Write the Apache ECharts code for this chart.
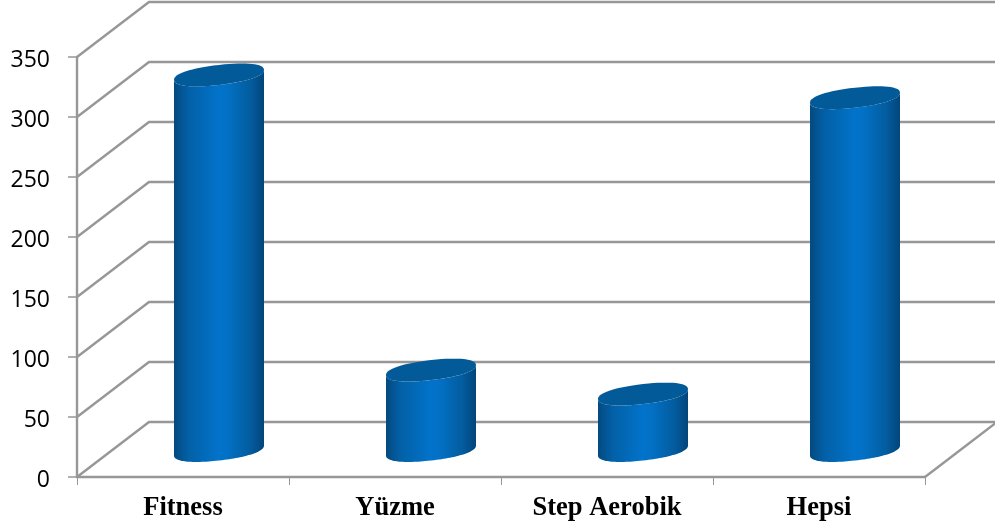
<!DOCTYPE html>
<html>
<head>
<meta charset="utf-8">
<style>html,body{margin:0;padding:0;background:#fff}#c{width:995px;height:526px}</style>
<script src="https://cdn.jsdelivr.net/npm/echarts@6/dist/echarts.min.js"></script>
</head>
<body>
<div id="c"></div>
<script>
const categories = ['Fitness', 'Yüzme', 'Step Aerobik', 'Hepsi'];
const values = [313, 67, 47, 294];
const yTicks = [0, 50, 100, 150, 200, 250, 300, 350];

const DEPTH_X = 72, DEPTH_Y = 55;
const GREY = '#979797';
const HALF_W = 45, SHEAR = 5, HALF_H = 10, ROUND = 0.9;

function sp(v) { return Math.sign(v) * Math.pow(Math.abs(v), ROUND); }

function arc(cx, cy, from, to) {
  const pts = [];
  const n = 64;
  for (let i = 0; i <= n; i++) {
    const t = from + (to - from) * i / n;
    const c = sp(Math.cos(t)), s = sp(Math.sin(t));
    pts.push([cx + HALF_W * c, cy - SHEAR * c + HALF_H * s]);
  }
  return pts;
}

function renderWall(params, api) {
  const cs = params.coordSys;
  const y = api.coord([0, api.value(1)])[1];
  const left = cs.x, right = cs.x + cs.width;
  const style = { stroke: GREY, lineWidth: 2.4, fill: null };
  const children = [{
    type: 'polyline',
    shape: { points: [[left, y], [left + DEPTH_X, y - DEPTH_Y], [right + DEPTH_X, y - DEPTH_Y]] },
    style: style
  }];
  if (api.value(1) === 0) {
    children.push({
      type: 'line',
      shape: { x1: right, y1: y, x2: right + DEPTH_X, y2: y - DEPTH_Y },
      style: style
    });
  }
  return { type: 'group', children: children };
}

function renderCylinder(params, api) {
  const top = api.coord([api.value(0), api.value(1)]);
  const base = api.coord([api.value(0), 0]);
  const cx = top[0] + DEPTH_X / 2;
  const topY = top[1] - DEPTH_Y / 2 + 1;
  const baseY = base[1] - DEPTH_Y / 2 + 1;
  const body = arc(cx, baseY, 0, Math.PI).concat(arc(cx, topY, Math.PI, 0));
  return {
    type: 'group',
    children: [{
      type: 'polygon',
      shape: { points: body },
      style: {
        fill: {
          type: 'linear', x: 0, y: 0, x2: 1, y2: 0,
          colorStops: [
            { offset: 0, color: '#034a80' },
            { offset: 0.16, color: '#0360a6' },
            { offset: 0.5, color: '#0273cb' },
            { offset: 0.6, color: '#0270c4' },
            { offset: 0.85, color: '#035c9e' },
            { offset: 1, color: '#03457a' }
          ]
        }
      }
    }, {
      type: 'polygon',
      shape: { points: arc(cx, topY, 0, 2 * Math.PI) },
      style: { fill: '#035a98' }
    }]
  };
}

const chart = echarts.init(document.getElementById('c'), null, { renderer: 'canvas' });
chart.setOption({
  animation: false,
  backgroundColor: '#fff',
  grid: { left: 77, right: 70, top: 57, bottom: 49 },
  xAxis: {
    type: 'category',
    data: categories,
    axisLine: { lineStyle: { color: GREY, width: 2.4 } },
    axisTick: { show: true, length: 8, lineStyle: { color: GREY, width: 1 } },
    axisLabel: {
      margin: 18, interval: 0, color: '#000',
      fontFamily: 'Liberation Serif', fontWeight: 'bold', fontSize: 26.5
    }
  },
  yAxis: {
    type: 'value', min: 0, max: 350, interval: 50,
    axisLine: { show: true, lineStyle: { color: GREY, width: 2.4 } },
    axisTick: { show: true, length: 9, lineStyle: { color: GREY, width: 1.5 } },
    splitLine: { show: false },
    axisLabel: {
      margin: 27, color: '#000', verticalAlign: 'top', lineHeight: 6,
      fontFamily: 'Open Sans', fontSize: 23,
      formatter: function (v) { return yTicks.includes(v) ? String(v) : ''; }
    }
  },
  series: [{
    type: 'custom', silent: true, z: 1,
    renderItem: renderWall,
    encode: { x: 0, y: 1 },
    data: yTicks.map(v => [0, v])
  }, {
    type: 'custom', silent: true, z: 3,
    renderItem: renderCylinder,
    encode: { x: 0, y: 1 },
    data: values.map((v, i) => [i, v])
  }]
});
</script>
</body>
</html>
